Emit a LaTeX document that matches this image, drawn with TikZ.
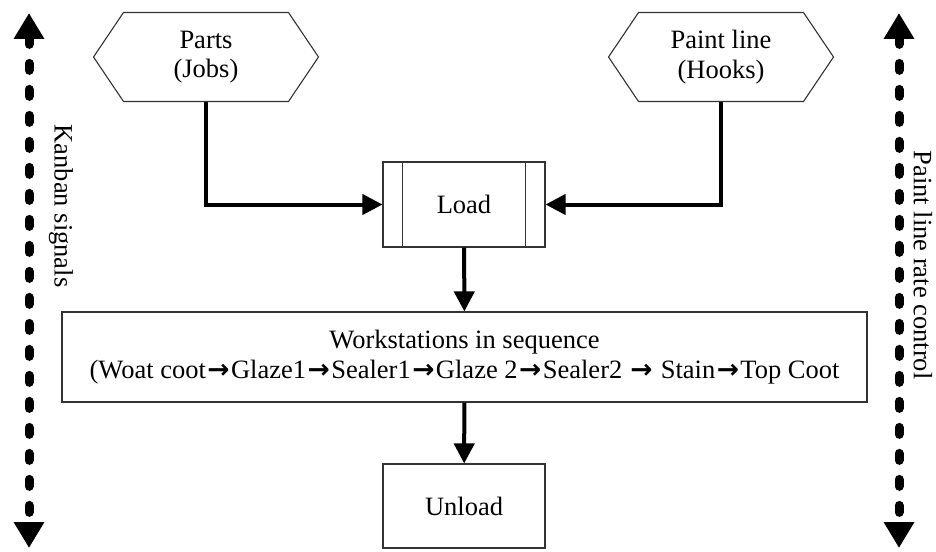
\documentclass[tikz,border=0pt]{standalone}
\usepackage{fontspec}
\setmainfont{Liberation Serif}
\newfontfamily\arrowfont{DejaVu Sans}
\usepackage{tikz}
\usetikzlibrary{positioning}
\usetikzlibrary{arrows.meta}
\usetikzlibrary{shapes.symbols}

\newcommand{\seqarrow}{{\hspace{1.5pt}\arrowfont\bfseries\symbol{"2192}\hspace{1.5pt}}}

\begin{document}
\begin{tikzpicture}[
  x=1pt, y=-1pt,
  font=\fontsize{26.5}{29.5}\selectfont,
  box/.style={
    rectangle,
    draw=black!80,
    line width=1.1pt,
    minimum width=#1,
    minimum height=85pt,
    align=center,
    inner sep=0pt
  },
  hexa/.style={
    signal,
    signal to=west and east,
    signal pointer angle=112,
    draw=black!80,
    line width=1.1pt,
    minimum width=225pt,
    minimum height=89pt,
    align=center,
    inner sep=0pt
  },
  flow/.style={-{Triangle[length=20pt,width=20pt]}, line width=4pt},
  kanban/.style={
    {Triangle[length=26pt,width=29pt]}-{Triangle[length=26pt,width=29pt]},
    line width=9pt, line cap=round, dash pattern=on 7pt off 19pt
  },
  lbl/.style={rotate=-90, inner sep=0pt}
]
\useasboundingbox (0,0) rectangle (936,551);

% Sources
\node[hexa] (parts) at (206,57) {Parts\\(Jobs)};
\node[hexa] (paint) at (721,57) {Paint line\\(Hooks)};

% Process boxes
\node[box=162pt] (load) at (464,204.5) {Load};
\draw[draw=black!80, line width=1.1pt]
  ([xshift=20pt]load.north west) -- ([xshift=20pt]load.south west)
  ([xshift=-20pt]load.north east) -- ([xshift=-20pt]load.south east);

\node[box=805pt, minimum height=90pt] (work) at (464.5,357)
{Workstations in sequence\\(Woat coot\seqarrow Glaze1\seqarrow Sealer1\seqarrow Glaze 2\seqarrow Sealer2 \seqarrow{} Stain\seqarrow Top Coot};

\node[box=162pt, minimum height=84pt] (unload) at (464,506) {Unload};

% Flow arrows
\draw[flow] (parts.south) |- (load.west);
\draw[flow] (paint.south) |- (load.east);
\draw[flow] (load) -- (work);
\draw[flow] (work) -- (unload);

% Side signals
\coordinate (kbtop) at (29,13);
\coordinate (kbbot) at (29,548);
\coordinate (ratetop) at (899,13);
\coordinate (ratebot) at (899,548);
\draw[kanban] (kbtop) -- (kbbot);
\draw[kanban] (ratetop) -- (ratebot);

\node[lbl] (kanbanlbl) at (61,206) {Kanban signals};
\node[lbl] (ratelbl) at (923,265) {Paint line rate control};

\end{tikzpicture}
\end{document}
